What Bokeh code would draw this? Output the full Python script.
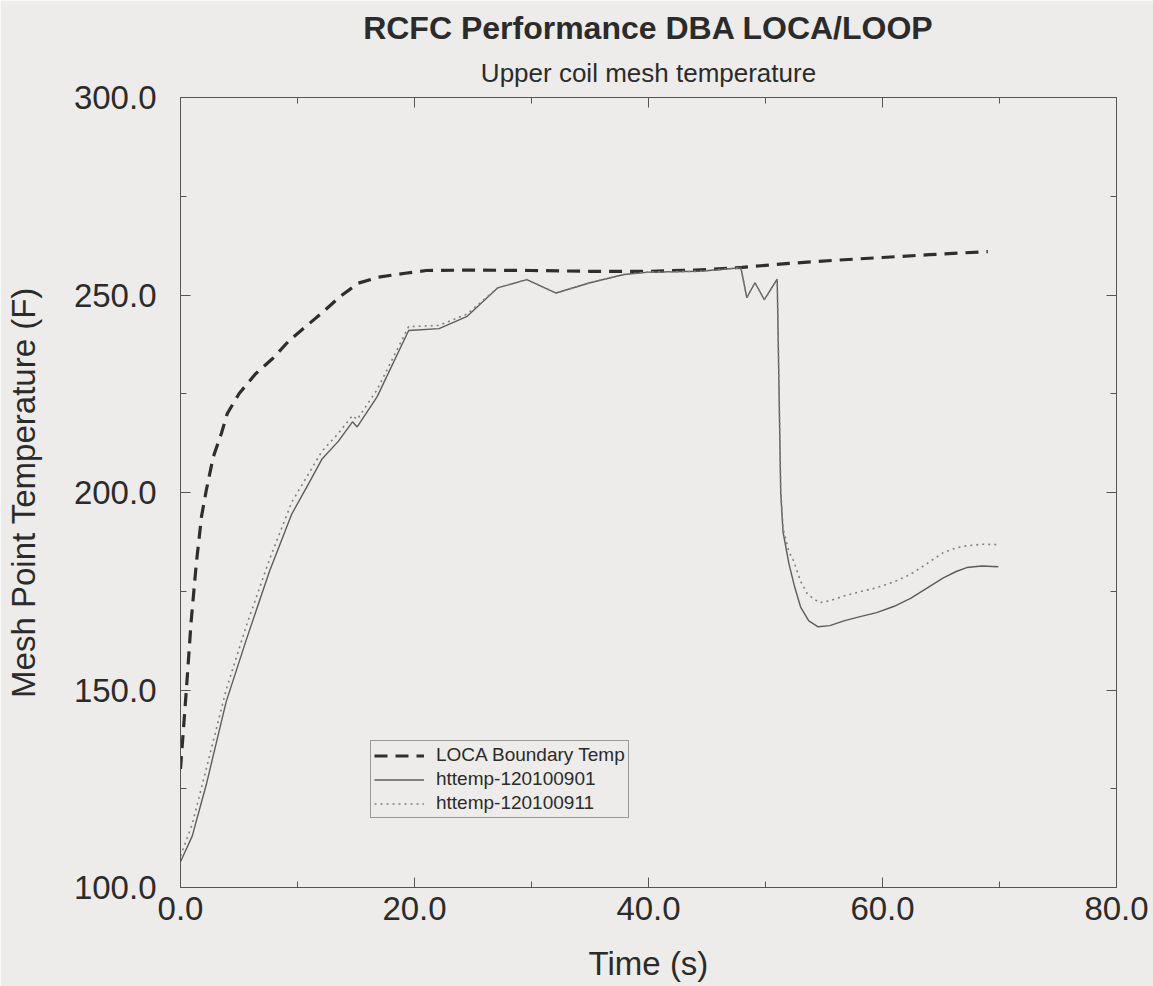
from bokeh.plotting import figure
from bokeh.models import (Range1d, LinearAxis, SingleIntervalTicker, PrintfTickFormatter,
                          Title, Legend, LegendItem)
from bokeh.embed import file_html
from bokeh.resources import INLINE

# ---- data ----
loca_t = [0, 0.25, 0.5, 0.9, 1.35, 1.8, 2.2, 2.8, 3.5, 4.0, 5.0, 6.4, 7.9, 9.3, 10.7,
          12.1, 13.6, 15.2, 16.9, 19.2, 21, 25, 30, 35, 40, 44, 48, 52, 56, 60, 64, 69]
loca_T = [130, 140, 150, 167, 182, 194, 200.5, 209, 215, 220, 225, 230, 234, 238.5, 242,
          245.5, 249.5, 253, 254.5, 255.5, 256.2, 256.3, 256.2, 256, 256, 256.3, 257,
          258, 258.8, 259.5, 260.2, 261]

s901_t = [0, 1.0, 2.2, 3.9, 5.6, 7.6, 9.5, 11, 12.1, 13.5, 14.7, 15.1, 16.8, 19.5, 22.1,
          24.5, 27.1, 29.6, 32.1, 35.0, 37.9, 40, 44.4, 47.9, 48.4, 49.1, 49.9, 51.0,
          51.3, 51.5, 52.0, 52.5, 53.0, 53.7, 54.5, 55.5, 56.7, 58.0, 59.5, 61.0, 62.4,
          63.8, 65.2, 66.3, 67.2, 68.5, 69.9]
s901_T = [106.5, 113, 126, 147, 162.5, 180, 194.5, 202.5, 208.5, 213, 217.9, 216.6, 224.2,
          241, 241.5, 244.6, 251.8, 253.9, 250.5, 253.1, 255.2, 255.8, 256, 256.9, 249.3,
          253.1, 248.8, 254, 200, 190, 182, 176, 171, 167.5, 166, 166.3, 167.5, 168.5,
          169.6, 171.2, 173.2, 175.8, 178.4, 180.0, 181.0, 181.4, 181.2]

s911_t = [0, 1.0, 2.2, 3.9, 5.6, 7.6, 9.5, 11, 12.1, 13.5, 14.7, 15.1, 16.8, 19.5, 22.1,
          24.5, 27.1, 29.6, 32.1, 35.0, 37.9, 40, 44.4, 47.9, 48.4, 49.1, 49.9, 51.0,
          51.3, 51.5, 52.0, 52.4, 53.0, 53.6, 54.6, 55.5, 56.7, 58.0, 59.5, 61.0, 62.4,
          63.8, 65.2, 66.3, 67.2, 68.5, 69.8]
s911_T = [108, 116, 130, 150, 166, 183, 197.5, 205, 210.5, 215, 219.5, 218.5, 226,
          242, 242.3, 245.2, 251.8, 253.9, 250.5, 253.1, 255.2, 255.8, 256, 256.9, 249.3,
          253.1, 248.8, 254, 201, 191, 185, 182.7, 177.5, 174.2, 172.1, 172.6, 173.8,
          174.8, 175.9, 177.4, 179.3, 182.0, 184.8, 186.0, 186.5, 186.9, 186.8]

labels = ["LOCA Boundary Temp", "httemp-120100901", "httemp-120100911"]

BG = "#edecea"
INK = "#2b2b2b"
FONT = "Liberation Sans"

p = figure(width=1153, height=986, x_range=Range1d(0, 80), y_range=Range1d(100, 300),
           output_backend="svg", toolbar_location=None,
           min_border_left=180, min_border_right=37, min_border_bottom=99, min_border_top=97)
p.background_fill_color = BG
p.border_fill_color = BG
p.outline_line_color = "#666666"
p.xgrid.visible = False
p.ygrid.visible = False

def style_axis(ax, interval, labels_on=True):
    ax.ticker = SingleIntervalTicker(interval=interval, num_minor_ticks=2)
    ax.formatter = PrintfTickFormatter(format="%.1f")
    ax.major_tick_in = 10
    ax.major_tick_out = 0
    ax.minor_tick_in = 6
    ax.minor_tick_out = 0
    ax.axis_line_color = "#555555"
    ax.major_tick_line_color = "#555555"
    ax.minor_tick_line_color = "#555555"
    if labels_on:
        ax.major_label_text_font_size = "33px"
        ax.major_label_text_font = FONT
        ax.major_label_text_color = INK
        ax.axis_label_text_font_size = "33px"
        ax.axis_label_text_font = FONT
        ax.axis_label_text_font_style = "normal"
        ax.axis_label_text_color = INK
    else:
        ax.major_label_text_font_size = "1px"
        ax.major_label_text_color = None
        ax.major_label_text_alpha = 0
        ax.major_label_standoff = 0

xa = p.xaxis[0]
ya = p.yaxis[0]
style_axis(xa, 20)
style_axis(ya, 50)
xa.axis_label = "Time (s)"
ya.axis_label = "Mesh Point Temperature (F)"
xa.major_label_standoff = 9
xa.axis_label_standoff = 22
ya.major_label_standoff = 24
ya.axis_label_standoff = 29

top = LinearAxis()
right = LinearAxis()
style_axis(top, 20, labels_on=False)
style_axis(right, 50, labels_on=False)
p.add_layout(top, "above")
p.add_layout(right, "right")

sub = Title(text="Upper coil mesh temperature", align="center", text_font_size="26px",
            text_font_style="normal", text_font=FONT, text_color=INK, standoff=20)
main = Title(text="RCFC Performance DBA LOCA/LOOP", align="center", text_font_size="32px",
             text_font_style="bold", text_font=FONT, text_color=INK, standoff=0)
p.add_layout(sub, "above")
p.add_layout(main, "above")

r1 = p.line(loca_t, loca_T, line_color="#2e2e2e", line_width=3.2, line_dash="13 8")
r2 = p.line(s901_t, s901_T, line_color="#5c5c5c", line_width=1.4)
r3 = p.line(s911_t, s911_T, line_color="#808080", line_width=1.6, line_dash="2 4")

legend = Legend(items=[LegendItem(label=labels[0], renderers=[r1]),
                       LegendItem(label=labels[1], renderers=[r2]),
                       LegendItem(label=labels[2], renderers=[r3])],
                location=(190, 69))
legend.label_text_font = FONT
legend.label_text_font_size = "19px"
legend.label_text_color = INK
legend.label_height = 21
legend.glyph_height = 21
legend.glyph_width = 50
legend.label_standoff = 12
legend.spacing = 2
legend.padding = 3
legend.margin = 0
legend.border_line_color = "#444444"
legend.border_line_width = 1
legend.background_fill_color = BG
legend.background_fill_alpha = 1
p.add_layout(legend, "center")

open("out.html", "w").write(file_html(p, INLINE))
